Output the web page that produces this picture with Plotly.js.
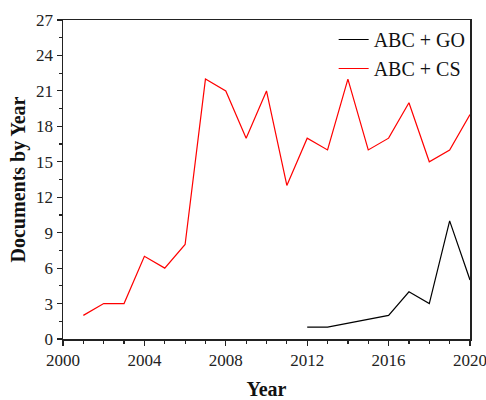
<!DOCTYPE html>
<html>
<head>
<meta charset="utf-8">
<script src="https://cdn.plot.ly/plotly-3.0.1.min.js"></script>
<style>html,body{margin:0;padding:0;background:#fff;}#chart{width:486px;height:400px;}</style>
</head>
<body>
<div id="chart"></div>
<script>
var goYears = [2012, 2013, 2016, 2017, 2018, 2019, 2020];
var goValues = [1, 1, 2, 4, 3, 10, 5];
var csYears = [2001, 2002, 2003, 2004, 2005, 2006, 2007, 2008, 2009, 2010, 2011, 2012, 2013, 2014, 2015, 2016, 2017, 2018, 2019, 2020];
var csValues = [2, 3, 3, 7, 6, 8, 22, 21, 17, 21, 13, 17, 16, 22, 16, 17, 20, 15, 16, 19];
var seriesNames = ['ABC + GO', 'ABC + CS'];

var fontFam = '"Liberation Serif", "DejaVu Serif", serif';
var data = [
  {x: goYears, y: goValues, name: seriesNames[0], type: 'scatter', mode: 'lines', line: {color: '#000000', width: 1.2}},
  {x: csYears, y: csValues, name: seriesNames[1], type: 'scatter', mode: 'lines', line: {color: '#ff0000', width: 1.2}}
];
var layout = {
  width: 486, height: 400,
  margin: {l: 63, r: 16, t: 20, b: 61},
  paper_bgcolor: '#fff', plot_bgcolor: '#fff',
  font: {family: fontFam, color: '#222', size: 17},
  showlegend: true,
  legend: {x: 0.665, y: 1.0, xanchor: 'left', yanchor: 'top', bgcolor: 'rgba(0,0,0,0)', font: {size: 20, color: '#111'}, tracegroupgap: 0},
  xaxis: {
    range: [2000, 2020], dtick: 4, tick0: 2000, ticks: 'outside', ticklen: 5, tickwidth: 1.2, tickcolor: '#222',
    showline: true, linecolor: '#222', linewidth: 1.5, mirror: true, showgrid: false, zeroline: false,
    ticklabeloverflow: 'allow',
    minor: {dtick: 1, ticks: 'outside', ticklen: 3, tickcolor: '#222', showgrid: false},
    title: {text: '<b>Year</b>', font: {size: 20, color: '#111'}, standoff: 30},
    tickfont: {size: 17}
  },
  yaxis: {
    range: [0, 27], dtick: 3, tick0: 0, ticks: 'outside', ticklen: 5, tickwidth: 1.2, tickcolor: '#222',
    showline: true, linecolor: '#222', linewidth: 1.5, mirror: true, showgrid: false, zeroline: false,
    minor: {dtick: 1.5, ticks: 'outside', ticklen: 3, tickcolor: '#222', showgrid: false},
    title: {text: '<b>Documents by Year</b>', font: {size: 20, color: '#111'}, standoff: 5},
    tickfont: {size: 17}
  }
};
Plotly.newPlot('chart', data, layout, {displayModeBar: false, staticPlot: true});
</script>
</body>
</html>
